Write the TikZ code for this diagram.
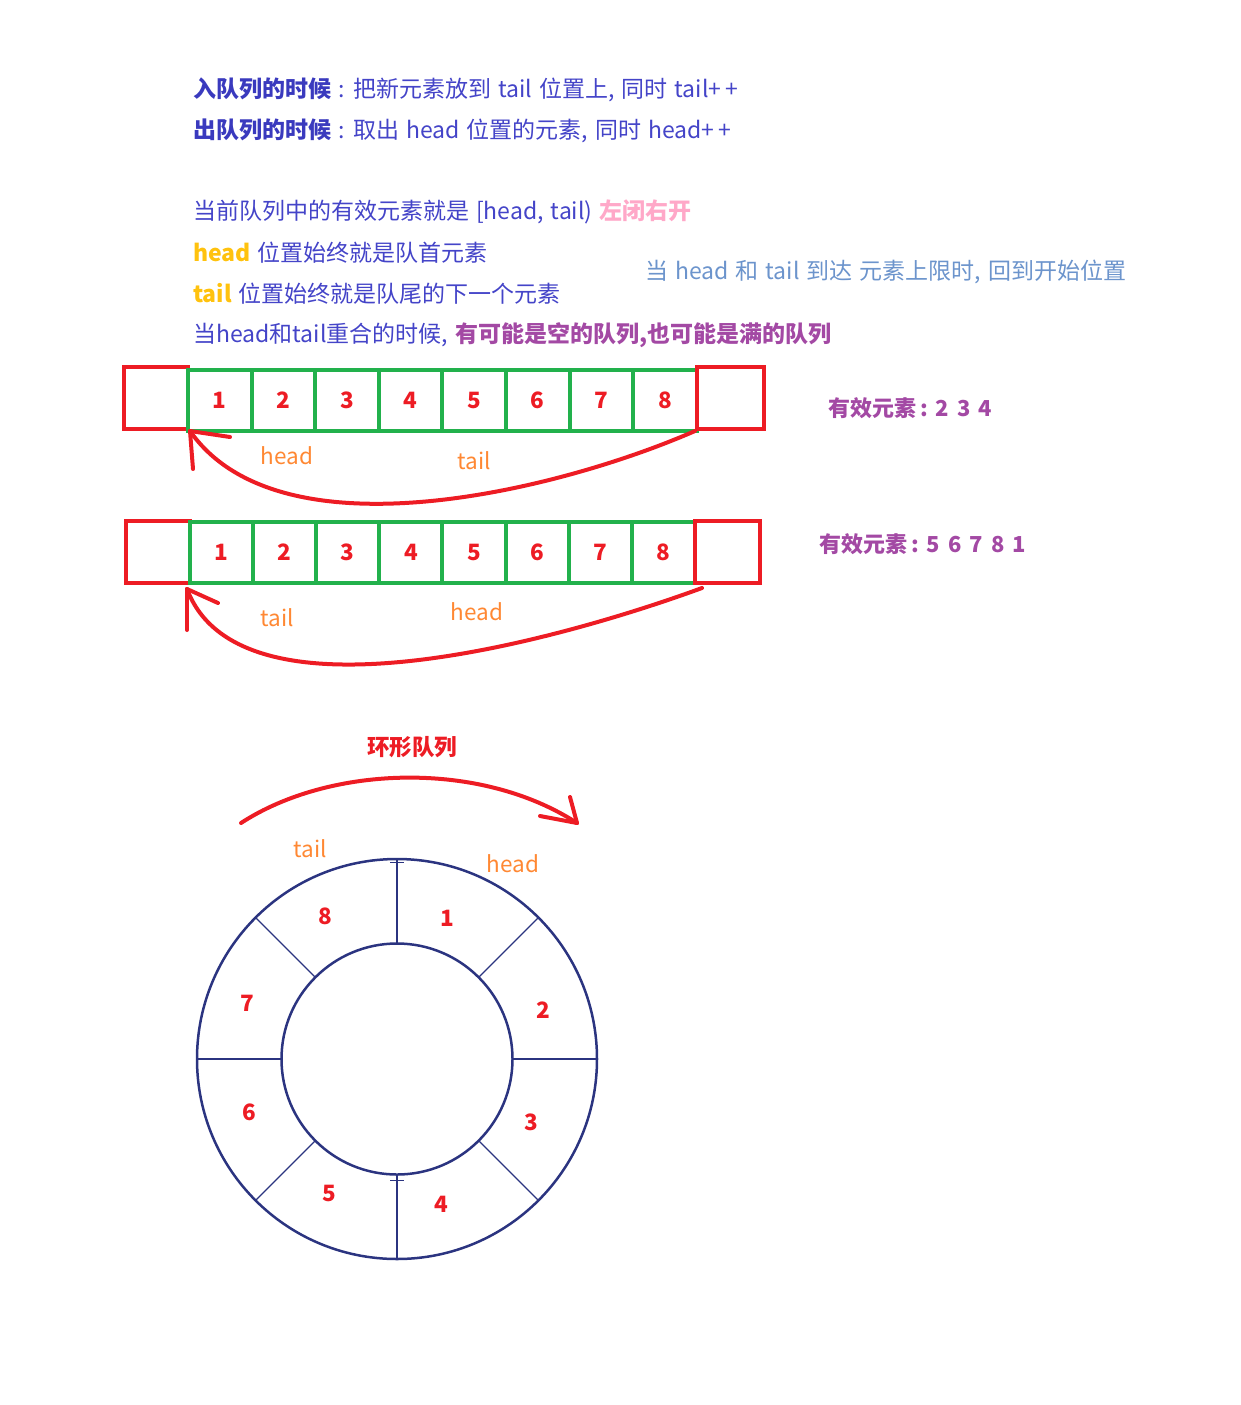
\documentclass[tikz,border=0pt]{standalone}
\usepackage{fontspec}
\setmainfont{Noto Sans CJK SC}
\definecolor{qblue}{HTML}{4444C8}
\definecolor{qdblue}{HTML}{3A3ABE}
\definecolor{qlblue}{HTML}{6C94CC}
\definecolor{qpink}{HTML}{FFA8C8}
\definecolor{qgold}{HTML}{FFC20E}
\definecolor{qpurple}{HTML}{A349A4}
\definecolor{qorange}{HTML}{FF8833}
\definecolor{qred}{HTML}{ED1C24}
\definecolor{qgreen}{HTML}{22B14C}
\definecolor{qnavy}{HTML}{2B3480}
\newcommand{\dsp}{\hspace{8pt}}
\newcommand{\widesp}{\spaceskip=7pt plus 1pt minus 1pt\relax}
\begin{document}
\begin{tikzpicture}[x=1pt,y=-1pt,
  txt/.style={anchor=west, inner sep=0pt, text=qblue, font=\fontsize{23}{26}\selectfont, execute at begin node=\widesp},
  lbl/.style={inner sep=0pt, text=qorange, font=\fontsize{22.5}{26}\selectfont},
  cnt/.style={anchor=west, inner sep=0pt, text=qpurple, font=\fontsize{22}{26}\selectfont\bfseries},
  cellA/.style={draw=qgreen, line width=4pt, minimum width=63.6pt, minimum height=61pt, inner sep=0pt, text=qred, font=\fontsize{22.5}{26}\selectfont\bfseries},
  cellB/.style={cellA, minimum width=63.1pt},
  endbox/.style={draw=qred, line width=4pt, minimum height=62pt, inner sep=0pt},
  redarrow/.style={draw=qred, line width=4pt, line cap=round},
  num/.style={inner sep=0pt, text=qred, font=\fontsize{22.5}{26}\selectfont\bfseries}]
\useasboundingbox (0,0) rectangle (1241,1405);

% ---------- texts ----------
\node[txt] (t1) at (193,90) {{\color{qdblue}\bfseries 入队列的时候} : 把新元素放到 tail 位置上, 同时 tail+\,+};
\node[txt] (t2) at (193,131) {{\color{qdblue}\bfseries 出队列的时候} : 取出 head 位置的元素, 同时 head+\,+};
\node[txt] (t3) at (193,212) {当前队列中的有效元素就是 [head, tail) {\color{qpink}\bfseries 左闭右开}};
\node[txt] (t4) at (193,253) {{\color{qgold}\bfseries head} 位置始终就是队首元素};
\node[txt] (t5) at (193,294) {{\color{qgold}\bfseries tail} 位置始终就是队尾的下一个元素};
\node[txt] (t6) at (193,335) {当head和tail重合的时候, {\color{qpurple}\bfseries 有可能是空的队列,也可能是满的队列}};
\node[txt, text=qlblue] (t7) at (645,272) {当 head 和 tail 到达 元素上限时, 回到开始位置};

% ---------- array 1 ----------
\node[endbox, minimum width=64pt] (aL) at (156,398) {};
\foreach \i in {1,...,8} {
  \node[cellA] (a\i) at ({188+63.6*(\i-0.5)},400.5) {\i};
}
\node[endbox, minimum width=67pt] (aR) at (730.5,398) {};
\node[lbl] (ah) at (287,456) {head};
\node[lbl] (at) at (474,461) {tail};
\node[cnt] (ac) at (828,408) {有效元素\hspace{4pt}:\dsp2\dsp3\dsp4};
\draw[redarrow] (aR.south west) .. controls (560,490) and (280,560) .. (aL.south east);
\draw[redarrow] (aL.south east) -- ++(40,6);
\draw[redarrow] (aL.south east) -- ++(3,38);

% ---------- array 2 ----------
\node[endbox, minimum width=64pt] (bL) at (158,552) {};
\foreach \i in {1,...,8} {
  \node[cellB] (b\i) at ({190+63.1*(\i-0.5)},552.5) {\i};
}
\node[endbox, minimum width=65pt] (bR) at (727.5,552) {};
\node[lbl] (bt) at (277,618) {tail};
\node[lbl] (bh) at (477,612) {head};
\node[cnt] (bc) at (819,544) {有效元素\hspace{4pt}:\dsp5\dsp6\dsp7\dsp8\dsp1};
\coordinate (bs) at (702,588);
\coordinate (be) at (187,589);
\draw[redarrow] (bs) .. controls (560,640) and (240,730) .. (be);
\draw[redarrow] (be) -- ++(31,14);
\draw[redarrow] (be) -- ++(0,41);

% ---------- ring ----------
\node[inner sep=0pt, text=qred, font=\fontsize{22.5}{26}\selectfont\bfseries] (title) at (412,747) {环形队列};
\coordinate (s0) at (241,823);
\coordinate (s1) at (577,823);
\draw[redarrow] (s0) .. controls (330,765) and (480,760) .. (s1);
\draw[redarrow] (s1) -- ++(-37,-7);
\draw[redarrow] (s1) -- ++(-7,-26);

\coordinate (c) at (397,1059);
\draw[qnavy, line width=2.5pt] (c) circle [radius=200];
\draw[qnavy, line width=2.5pt] (c) circle [radius=115.5];
\foreach \a in {0,45,...,315} {
  \draw[qnavy, line width=1.1pt] (c) ++(\a:115.5) -- ++(\a:84.5);
}
\draw[qnavy, line width=1pt] (390,862) -- (404,862);
\draw[qnavy, line width=1pt] (390,1180) -- (404,1180);

\node[num] (n1) at (447,918) {1};
\node[num] (n2) at (543,1010) {2};
\node[num] (n3) at (531,1122) {3};
\node[num] (n4) at (441,1204) {4};
\node[num] (n5) at (329,1193) {5};
\node[num] (n6) at (249,1112) {6};
\node[num] (n7) at (247,1003) {7};
\node[num] (n8) at (325,916) {8};
\node[lbl] (rt) at (310,849) {tail};
\node[lbl] (rh) at (513,864) {head};
\end{tikzpicture}
\end{document}
